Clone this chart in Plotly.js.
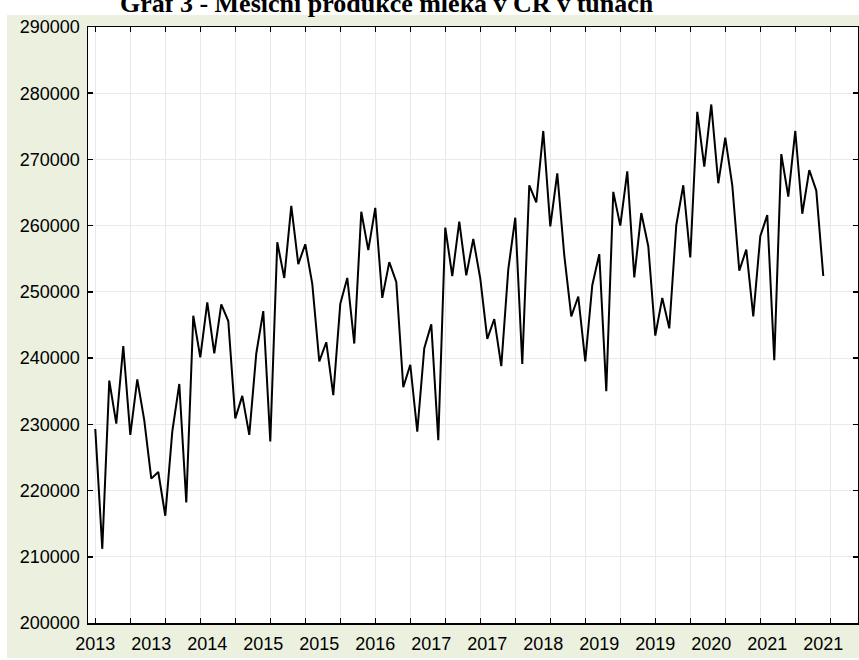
<!DOCTYPE html>
<html>
<head>
<meta charset="utf-8">
<script src="https://cdn.plot.ly/plotly-3.0.1.min.js"></script>
<style>html,body{margin:0;padding:0;background:#ffffff}#chart{width:859px;height:660px}</style>
</head>
<body>
<div id="chart"></div>
<script>
// Monthly milk production in CZ (tonnes), Jan 2013 - Sep 2021
const production = [
  229300, 211200, 236600, 230100, 241800, 228400, 236800, 230600, 221800, 222800, 216200, 228900,
  236100, 218200, 246400, 240100, 248400, 240700, 248100, 245600, 230900, 234300, 228400, 240700,
  247100, 227400, 257500, 252100, 263000, 254200, 257200, 251200, 239500, 242400, 234400, 248200,
  252100, 242200, 262100, 256300, 262700, 249100, 254500, 251500, 235600, 239000, 228900, 241500,
  245100, 227600, 259700, 252400, 260600, 252500, 258000, 252000, 242900, 245900, 238800, 253400,
  261200, 239100, 266100, 263500, 274300, 259900, 267900, 255500, 246300, 249300, 239500, 251000,
  255700, 235000, 265100, 260000, 268200, 252200, 261900, 256900, 243400, 249100, 244500, 260100,
  266100, 255200, 277200, 268900, 278300, 266400, 273300, 266100, 253200, 256400, 246300, 258400,
  261600, 239700, 270800, 264400, 274300, 261800, 268400, 265300, 252400
];
const caseNo = production.map((_, i) => i);
const tickPositions = [0, 8, 16, 24, 32, 40, 48, 56, 64, 72, 80, 88, 96, 104];
const tickLabels = ['2013','2013','2014','2015','2015','2016','2017','2017','2018','2019','2019','2020','2021','2021'];
const yTicks = [200000, 210000, 220000, 230000, 240000, 250000, 260000, 270000, 280000, 290000];
const chartTitle = 'Graf 3 - Měsíční produkce mléka v ČR v tunách';

const xr = [-1.04, 108.96];
const sans = 'Liberation Sans, Arial, Helvetica, sans-serif';
const grid = '#e9e9e9';

const traces = [
  {x: caseNo, y: production, type: 'scatter', mode: 'lines',
   line: {color: '#000000', width: 2}, hoverinfo: 'skip', showlegend: false},
  {x: [], y: [], xaxis: 'x2', yaxis: 'y', type: 'scatter', mode: 'lines', hoverinfo: 'skip', showlegend: false}
];

const layout = {
  width: 859, height: 660,
  paper_bgcolor: '#ebf1de', plot_bgcolor: '#ffffff',
  margin: {l: 88, r: 1, t: 27, b: 37, pad: 0},
  showlegend: false,
  title: {
    text: chartTitle,
    font: {family: 'Liberation Serif, Times New Roman, serif', size: 26, color: '#000000', weight: 'bold'},
    xref: 'container', yref: 'container', x: 120 / 859, xanchor: 'left',
    y: 1 - 12 / 660, yanchor: 'bottom', automargin: false
  },
  xaxis: {
    range: xr, tickmode: 'array', tickvals: tickPositions, ticktext: tickLabels,
    ticks: '', showgrid: false, zeroline: false,
    showline: true, linecolor: '#000000', linewidth: 1.5, mirror: true,
    tickfont: {family: sans, size: 18, color: '#000000'}, ticklabelstandoff: 4
  },
  xaxis2: {
    overlaying: 'x', anchor: 'y', side: 'bottom', range: xr,
    tickmode: 'linear', tick0: 0, dtick: 5,
    ticks: 'inside', ticklen: 5, tickwidth: 1.5, tickcolor: '#000000',
    showticklabels: false, showgrid: true, gridcolor: grid, gridwidth: 1, zeroline: false,
    showline: true, linecolor: '#000000', linewidth: 1.5, mirror: 'ticks'
  },
  yaxis: {
    range: [200000, 290000], tickmode: 'array', tickvals: yTicks, ticktext: yTicks.map(String),
    ticks: 'inside', ticklen: 5, tickwidth: 1.5, tickcolor: '#000000',
    showgrid: true, gridcolor: grid, gridwidth: 1, zeroline: false,
    showline: true, linecolor: '#000000', linewidth: 1.5, mirror: 'ticks',
    tickfont: {family: sans, size: 18, color: '#000000'}, ticklabelstandoff: 3
  },
  shapes: [
    {type: 'rect', xref: 'paper', yref: 'paper', x0: -0.2, x1: 1.1, y0: (623 - 15) / 596, y1: 1.2,
     fillcolor: '#ffffff', line: {width: 0}, layer: 'below'},
    {type: 'rect', xref: 'paper', yref: 'paper', x0: -0.2, x1: (7 - 88) / 770, y0: -0.2, y1: 1.2,
     fillcolor: '#ffffff', line: {width: 0}, layer: 'below'},
    {type: 'rect', xref: 'paper', yref: 'paper', x0: -0.2, x1: 1.1, y0: -0.2, y1: (623 - 658) / 596,
     fillcolor: '#ffffff', line: {width: 0}, layer: 'below'}
  ]
};

Plotly.newPlot('chart', traces, layout, {staticPlot: true, displayModeBar: false});
</script>
</body>
</html>
